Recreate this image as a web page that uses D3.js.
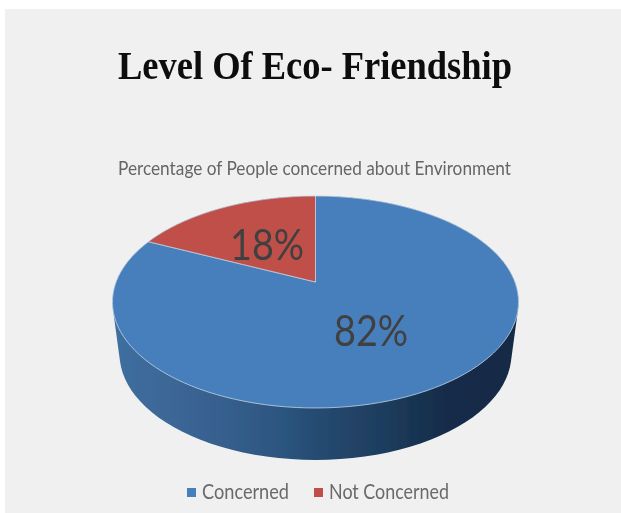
<!DOCTYPE html>
<html><head><meta charset="utf-8">
<script src="https://cdn.jsdelivr.net/npm/d3@7"></script>
<style>html,body{margin:0;padding:0;background:#fff}svg{display:block}</style></head>
<body><svg id="c" width="621" height="513"></svg>
<script>
const categories = ["Concerned", "Not Concerned"];
const values = [82, 18];
const labels = ["82%", "18%"];
const colors = ["#467fbc", "#c0504a"];
const titleText = "Level Of Eco- Friendship";
const subtitleText = "Percentage of People concerned about Environment";

const svg = d3.select("#c");
const defs = svg.append("defs");
defs.append("filter").attr("id","soft").attr("x","-5%").attr("y","-5%").attr("width","110%").attr("height","110%")
  .append("feGaussianBlur").attr("stdDeviation",0.6);
const grad = defs.append("linearGradient").attr("id","side").attr("gradientUnits","userSpaceOnUse")
  .attr("x1",113).attr("x2",518).attr("y1",0).attr("y2",0);
[[0,"#3f6f9f"],[0.12,"#3b6897"],[0.25,"#38608f"],[0.4,"#2d5781"],[0.52,"#25496f"],[0.68,"#1d3c5c"],[0.82,"#132c49"],[1,"#122a45"]]
  .forEach(([o,c])=>grad.append("stop").attr("offset",o).attr("stop-color",c));

svg.append("rect").attr("x",5).attr("y",9).attr("width",616).attr("height",504).attr("fill","#f0f0f0");

// perspective projection of the unit disc on to the page
const cx = 315.5, cy = 282, a = 199.4, b = 102.2, k = -0.1887;
const project = (angle, r, dy=0, sx=1) => {
  const u = r*Math.sin(angle), v = -r*Math.cos(angle), w = 1 + k*v;
  return [cx + sx*a*u/w, cy + dy + b*v/w];
};
const pie = d3.pie().sort(null)(values);
const line = d3.line();
const sweep = (s,e,dy,sx) => d3.range(0,121).map(i=>project(s+(e-s)*i/120,1,dy,sx));

const chart = svg.append("g").attr("filter","url(#soft)");
// side wall: outline around the top rim and the same rim dropped and narrowed
const depth = 52, narrow = 0.965;
const wall = d3.polygonHull(sweep(0,2*Math.PI,0,1).concat(sweep(0,2*Math.PI,depth,narrow)));
chart.append("path").attr("d",line(wall)+"Z").attr("fill","url(#side)");

// top slices
chart.selectAll("path.slice").data(pie).join("path").attr("class","slice")
  .attr("d",d=>line([[cx,cy],...sweep(d.startAngle,d.endAngle,0,1)])+"Z")
  .attr("fill",(d,i)=>colors[i])
  .attr("stroke","#c4d3e4").attr("stroke-width",0.8).attr("stroke-linejoin","round");

const text = svg.append("g").attr("filter","url(#soft)");

text.append("text").text(titleText).attr("x",315).attr("y",79).attr("text-anchor","middle")
  .attr("font-family","Liberation Serif").attr("font-weight","bold").attr("font-size",41).attr("fill","#0a0a0a")
  .attr("textLength",394).attr("lengthAdjust","spacingAndGlyphs");
text.append("text").text(subtitleText).attr("x",314.5).attr("y",175).attr("text-anchor","middle")
  .attr("font-family","Lato").attr("font-size",19).attr("fill","#666666")
  .attr("textLength",393).attr("lengthAdjust","spacingAndGlyphs");

const labelPos = [[371,346],[267,260]];
text.selectAll("text.lab").data(labels).join("text").attr("class","lab").text(d=>d)
  .attr("x",(d,i)=>labelPos[i][0]).attr("y",(d,i)=>labelPos[i][1]).attr("text-anchor","middle")
  .attr("font-family","Lato").attr("font-size",42).attr("fill","#404040")
  .attr("textLength",74).attr("lengthAdjust","spacingAndGlyphs");

// legend
const legendX = d3.scaleOrdinal().domain(categories).range([187,314]);
const legendW = d3.scaleOrdinal().domain(categories).range([87,120]);
categories.forEach((c,i)=>{
  text.append("rect").attr("x",legendX(c)).attr("y",488).attr("width",9).attr("height",9).attr("fill",colors[i]);
  text.append("text").text(c).attr("x",legendX(c)+15).attr("y",499)
    .attr("font-family","Lato").attr("font-size",21).attr("fill","#6a6a6a")
    .attr("textLength",legendW(c)).attr("lengthAdjust","spacingAndGlyphs");
});
</script></body></html>
